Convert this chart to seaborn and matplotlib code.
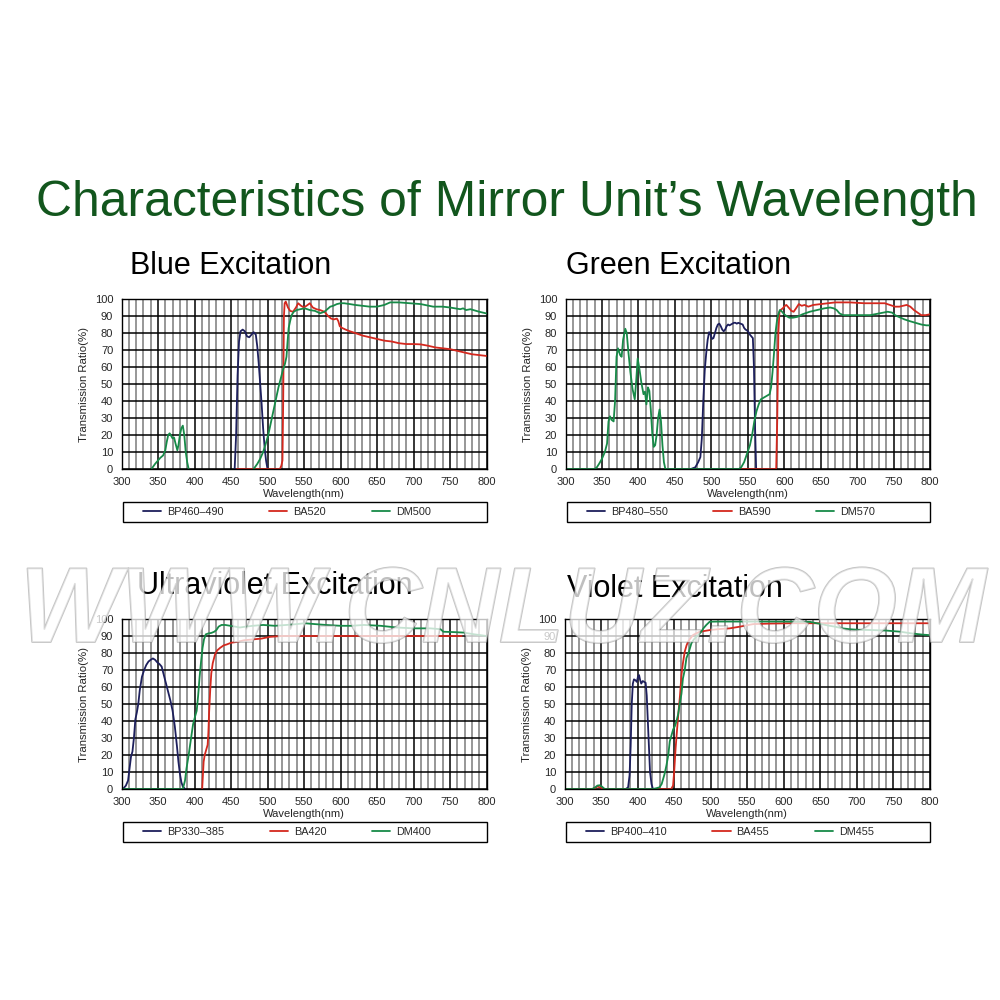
import matplotlib
matplotlib.use("Agg")
import matplotlib.pyplot as plt
import matplotlib.patheffects as pe
from matplotlib.patches import Rectangle
import seaborn as sns

NAVY = "#1d1f5c"
RED = "#d4281e"
GREEN = "#178a48"

# ---- Blue excitation ----
BLUE_BP_X = [455, 457, 459, 461, 463, 466, 469, 472, 475, 478, 481, 484, 486, 488, 490, 492, 494, 496, 498, 500]
BLUE_BP_Y = [0, 20, 55, 75, 81, 82, 81, 78, 77.5, 79, 80.5, 79, 72, 62, 50, 38, 24, 13, 5, 0]
BLUE_BA_X = [458, 517, 519, 520.5, 521.5, 522.5, 523.5, 525, 528, 531, 535, 539, 542, 546, 550, 555, 558, 562,
             567, 572, 578, 583, 587, 591, 595, 597, 599, 602, 607, 613, 620, 630, 640, 650, 660, 670, 680,
             690, 700, 710, 720, 730, 740, 750, 760, 770, 780, 790, 800]
BLUE_BA_Y = [0, 0, 2, 5, 40, 90, 97.5, 98.5, 95, 93, 92.5, 95, 97.5, 96, 95, 96.5, 97.5, 95,
             94, 93.5, 92.5, 90, 88.5, 88, 88.5, 87, 84, 83, 82, 81, 80, 78.5, 77.5, 76.5, 75.5, 75, 74,
             73.5, 73.5, 73.3, 72.5, 71.5, 71, 70.5, 69.5, 68.5, 67.5, 67, 66.5]
BLUE_DM_LOW_X = [341, 346, 350, 353, 357, 360, 362, 364, 366, 368, 370, 372, 374, 376.5, 378, 380, 382, 384,
                 386, 388, 390, 392]
BLUE_DM_LOW_Y = [0, 3, 5, 6.5, 8, 11, 16, 20, 21, 19.5, 18, 18.5, 15, 11, 14, 20, 24, 25.5, 20, 10, 4, 0]
BLUE_DM_X = [481, 486, 490, 494, 497, 501, 505, 508, 512, 515, 518, 521, 524, 526, 527.5, 529, 531, 533, 536,
             540, 545, 551, 558, 565, 572, 578, 582, 586, 590, 595, 600, 605, 613, 620, 630, 640, 650, 660,
             668, 680, 695, 710, 727, 740, 750, 757, 764, 768, 772, 778, 782, 790, 800]
BLUE_DM_Y = [0, 3, 6, 10, 14, 20, 28, 34, 42, 48, 53, 58, 62, 66, 75, 83, 87, 90.5, 92.5,
             93.5, 94, 94.5, 93.5, 93, 91.6, 92.5, 94, 95.5, 96, 97, 97.5, 97.5, 97, 96.5, 96, 95.5, 95.5, 96.5,
             98, 98, 97.5, 97, 95.5, 95.5, 95, 94.5, 94, 94.5, 93.5, 94, 93.5, 92.5, 91.5]

# ---- Green excitation ----
GREEN_BP_X = [472, 478, 482, 485, 487, 489, 491, 493, 495, 497, 499, 501, 503, 505, 507, 509, 511, 513, 515,
              517, 519, 521, 523, 525, 527, 529, 531, 533, 535, 537, 540, 543, 545, 547, 549, 551, 553, 555,
              557, 558.5, 560, 561.5]
GREEN_BP_Y = [0, 1, 4, 7, 18, 40, 58, 68, 76, 80.5, 79, 76.5, 77, 80, 83, 85, 85.5, 84, 82,
              81, 82, 84, 85, 84.5, 85, 85.5, 86, 86, 85.5, 86, 85.5, 85, 83, 82, 81.5, 80.5, 79, 78,
              77, 60, 25, 0]
GREEN_BA_X = [540, 589, 590.5, 592, 593.5, 595, 598, 601, 603, 606, 610, 613, 617, 620, 624, 628, 633, 640,
              650, 660, 670, 690, 710, 730, 738, 745, 752, 758, 763, 768, 773, 778, 783, 788, 794, 800]
GREEN_BA_Y = [0, 0, 30, 80, 92.5, 93.5, 94.5, 96, 96.5, 95, 93, 92.5, 95, 97, 96, 96.5, 95.5, 96.5,
              97, 97.5, 98, 98, 97.5, 97.5, 97.5, 96.5, 95.5, 95.5, 96, 96.5, 95.5, 93.5, 92, 90.5, 90.5, 91]
GREEN_DM_X = [300, 340, 343, 346, 350, 354, 357, 359, 361, 363, 366, 368, 370, 372, 375, 377, 379, 382, 384,
              386, 389, 392, 395, 397, 399, 401, 404, 407, 409, 411, 413, 415, 417, 419, 421, 423, 425, 427,
              429, 431, 433, 435, 437, 538, 541, 545, 549, 553, 556, 559, 562, 565, 568, 572, 576, 580, 582,
              584, 586, 588, 590, 592, 594, 596, 598, 600, 603, 607, 612, 618, 625, 635, 645, 655, 663, 668,
              672, 676, 681, 690, 705, 718, 730, 742, 748, 752, 757, 765, 772, 780, 788, 795, 800]
GREEN_DM_Y = [0, 0, 1, 3, 6, 10, 15, 28, 31, 29, 28, 40, 66, 71, 67, 66, 76, 82.5, 80,
              70, 57, 47, 41, 52, 65, 60, 51, 44, 45.5, 38, 48, 46, 35, 21, 13, 14, 20, 30,
              35, 28, 14, 4, 0, 0, 1, 4, 9, 14, 20, 28, 34, 38, 41, 42, 43, 44, 48,
              57, 68, 80, 87, 91, 93.5, 93, 92, 91, 90, 89, 89, 89.5, 91, 92.5, 93.5, 94.5, 95, 94.5,
              93.5, 91.5, 90.5, 90.5, 90.5, 90.5, 91.5, 92.5, 92, 90.5, 89.5, 88, 87, 86, 85, 84.5, 84.5]

# ---- Ultraviolet excitation ----
UV_BP_X = [302, 306, 309, 311, 313, 315, 317, 319, 321, 323, 325, 328, 331, 334, 337, 340, 343, 346, 349,
           352, 355, 358, 361, 364, 367, 370, 373, 376, 378, 380, 382, 384, 387]
UV_BP_Y = [0, 2, 5, 12, 19, 22, 30, 41, 45, 50, 58, 66, 70, 73, 75, 76, 76.8, 76, 74.5,
           73.5, 72, 67, 62, 57, 52, 46, 37, 25, 16, 9, 4, 1.5, 0]
UV_BA_X = [410.5, 411.5, 412.5, 414, 416, 418, 419, 420, 421.5, 423, 425, 428, 431, 435, 440, 444, 450, 458,
           468, 480, 492, 503, 520, 550, 600, 650, 700, 766]
UV_BA_Y = [0, 8, 16, 20, 23, 26, 33, 45, 58, 68, 74, 79, 81.5, 83, 84.5, 85, 86, 86.5,
           87.5, 88, 88.5, 89.5, 90, 90, 90, 90, 90, 90]
UV_DM_X = [300, 384, 387, 389, 392, 395, 398, 401, 403, 405, 407, 409, 411, 413, 415.5, 419, 423, 427, 430,
           433, 437, 442, 449, 456, 462, 470, 480, 494, 510, 526, 540, 551, 565, 580, 600, 615, 632, 655,
           677, 700, 723, 737, 741, 755, 769, 783, 800]
UV_DM_Y = [0, 0, 5, 12, 20, 29, 38, 43, 46, 55, 66, 75, 83, 88, 91, 91.5, 91.8, 92.5, 93.5,
           95.5, 96.5, 96.5, 96, 95.5, 95, 95.5, 96, 96.5, 96, 96.5, 97, 97.5, 97, 96.5, 96, 96, 96.5, 96,
           95, 94.5, 94.5, 94, 92.5, 92.3, 92, 91, 90]

# ---- Violet excitation ----
VIO_BP_X = [384, 387, 389, 390.5, 392, 393.5, 395, 397, 399, 400.5, 402, 403.5, 405, 407, 409, 411, 412.5,
            414, 415.5, 417, 419, 421]
VIO_BP_Y = [0, 1, 8, 25, 50, 62, 64.5, 64, 63, 66, 67, 64, 62, 63.5, 63, 62.5, 55, 40, 25, 10, 3, 0]
VIO_BA_X = [300, 338, 342, 345, 348, 352, 355, 430, 446, 448.5, 450, 452, 454, 456, 458, 460, 462, 464.5,
            467, 469, 472, 476, 480, 485, 492, 499, 510, 526, 540, 558, 580, 610, 650, 700, 750, 800]
VIO_BA_Y = [0, 0, 0.5, 1.5, 1, 0.3, 0, 0, 0, 2, 10, 24, 35, 45.5, 55, 67, 74, 80.8,
            84.5, 86.6, 88.5, 90.6, 91.5, 92.5, 93, 93.5, 94, 94.5, 95.5, 97, 97.3, 97.5, 97.5, 97.5, 97.5, 97.5]
VIO_DM_X = [300, 338, 342, 345, 348, 351, 355, 421, 426, 430, 433, 435, 437, 439.5, 442, 444, 446, 448.6,
            451, 453, 455.5, 457.7, 460, 462, 464.5, 466.8, 470, 473.6, 477, 480.5, 484, 487, 490, 494,
            498.6, 510, 550, 600, 636, 645, 652, 660, 670, 680, 690, 700, 720, 740, 760, 775, 790, 800]
VIO_DM_Y = [0, 0, 1, 2, 2.2, 1.5, 0, 0, 0.5, 1, 3, 6, 9, 14, 20, 28, 31, 35,
            37, 39.6, 44, 50.4, 56, 65, 70, 77, 80.5, 85.7, 88, 89.6, 91, 92.5, 94.5, 96.5,
            98.4, 98.5, 98.5, 98.5, 98.3, 97.5, 97, 96.2, 95.5, 94.5, 94, 93.7, 93.5, 93.2, 92.5, 91.5, 90.8, 90.5]

PANELS = [
    ("Blue Excitation", [0.1215, 0.531, 0.365, 0.17], (0.130, 0.734),
     [("BP460–490", BLUE_BP_X, BLUE_BP_Y, NAVY), ("BA520", BLUE_BA_X, BLUE_BA_Y, RED),
      ("DM500", BLUE_DM_X, BLUE_DM_Y, GREEN), (None, BLUE_DM_LOW_X, BLUE_DM_LOW_Y, GREEN)]),
    ("Green Excitation", [0.5655, 0.531, 0.3645, 0.17], (0.566, 0.734),
     [("BP480–550", GREEN_BP_X, GREEN_BP_Y, NAVY), ("BA590", GREEN_BA_X, GREEN_BA_Y, RED),
      ("DM570", GREEN_DM_X, GREEN_DM_Y, GREEN)]),
    ("Ultraviolet Excitation", [0.1215, 0.211, 0.365, 0.17], (0.137, 0.414),
     [("BP330–385", UV_BP_X, UV_BP_Y, NAVY), ("BA420", UV_BA_X, UV_BA_Y, RED),
      ("DM400", UV_DM_X, UV_DM_Y, GREEN)]),
    ("Violet Excitation", [0.5645, 0.211, 0.3655, 0.17], (0.567, 0.411),
     [("BP400–410", VIO_BP_X, VIO_BP_Y, NAVY), ("BA455", VIO_BA_X, VIO_BA_Y, RED),
      ("DM455", VIO_DM_X, VIO_DM_Y, GREEN)]),
]

sns.set_style("white")
plt.rcParams['font.family'] = ['Liberation Sans', 'DejaVu Sans']

fig = plt.figure(figsize=(10, 10), dpi=100)

fig.text(0.507, 0.797, "Characteristics of Mirror Unit\u2019s Wavelength", ha='center', va='center',
         fontsize=35.8, color='#12561d')

for title, rect, tpos, series in PANELS:
    ax = fig.add_axes(rect)
    for label, xs, ys, color in series:
        sns.lineplot(x=xs, y=ys, ax=ax, color=color, lw=1.3, label=label,
                     estimator=None, sort=False, legend=False)
    ax.set_xlim(300, 800)
    ax.set_ylim(0, 100)
    ax.set_xticks(range(300, 801, 50))
    ax.set_xticks(range(300, 801, 10), minor=True)
    ax.set_yticks(range(0, 101, 10))
    ax.grid(which='minor', axis='x', color='#7a7a7a', lw=1.1)
    ax.grid(which='major', axis='x', color='black', lw=1.1)
    ax.grid(which='major', axis='y', color='black', lw=1.1)
    ax.set_axisbelow(True)
    ax.tick_params(which='both', length=0, labelsize=8, pad=6)
    ax.set_xlabel("Wavelength(nm)", fontsize=8, labelpad=1)
    ax.set_ylabel("Transmission Ratio(%)", fontsize=8.2, labelpad=4)
    for sp in ax.spines.values():
        sp.set_color('black')
        sp.set_linewidth(1)
    # legend box spanning the axes width, entries packed to the left
    ax.add_patch(Rectangle((0.005, -0.312), 0.995, 0.118, transform=ax.transAxes, clip_on=False,
                           fill=False, ec='black', lw=1))
    ax.legend(loc='center left', bbox_to_anchor=(0.058, -0.253), ncol=3, frameon=False,
              fontsize=7.8, borderpad=0, borderaxespad=0, handlelength=1.7, handletextpad=0.55,
              columnspacing=4.2)
    fig.text(tpos[0], tpos[1], title, ha='left', va='center', fontsize=22, color='black')

# watermark
fig.text(0.503, 0.386, "WWW.CNLUZ.COM", ha='center', va='center', fontsize=77, fontweight='bold',
         fontstyle='italic', color='white', alpha=0.5, zorder=20,
         path_effects=[pe.Stroke(linewidth=1.3, foreground='#8a8a8a'), pe.Normal()])

fig.savefig("out.png", dpi=100, facecolor='white')
